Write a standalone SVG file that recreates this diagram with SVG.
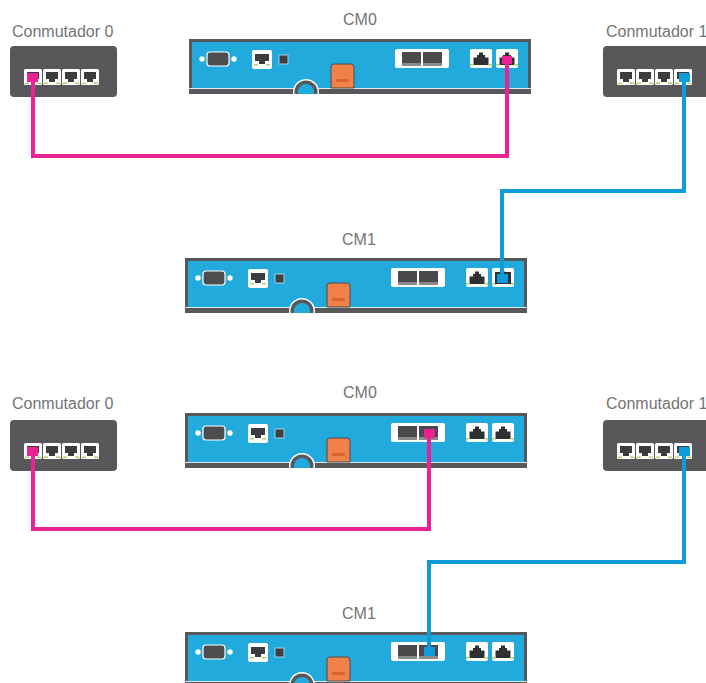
<svg xmlns="http://www.w3.org/2000/svg" width="706" height="683" viewBox="0 0 706 683">
<style>
text{font-family:"Liberation Sans",Arial,sans-serif;font-size:16px;fill:#747476}
.dark{fill:#58585a}
.white{fill:#fff}
.green{fill:#b5cf6a}
.wire{fill:none;stroke-width:4;stroke-linejoin:miter}
.pink{stroke:#ea2294}
.blue{stroke:#0d9bd9}
.pf{fill:#ea2294}
.bf{fill:#0d9bd9}
</style>
<defs>
<g id="rj-down">
<rect width="18" height="16" rx="1.500" class="white"/>
<path d="M3 3H15V10H12V13H6V10H3Z" fill="#3c3c3e"/>
<rect x="1" y="13.500" width="4" height="1.500" class="green"/>
<rect x="13" y="13.500" width="4" height="1.500" class="green"/>
</g>
<g id="rj-up">
<rect width="22" height="19" rx="2" class="white"/>
<path d="M3.500 16V8.500H7V6H9V3.500H13V6H15V8.500H18.500V16Z" fill="#303032"/>
<rect x="0" y="15" width="4" height="1.500" class="green"/>
<rect x="18" y="15" width="4" height="1.500" class="green"/>
</g>
<g id="switch">
<rect width="107" height="51" rx="4" class="dark"/>
<use href="#rj-down" x="14" y="23"/>
<use href="#rj-down" x="33" y="23"/>
<use href="#rj-down" x="52" y="23"/>
<use href="#rj-down" x="71" y="23"/>
</g>
<g id="panel">
<rect width="342" height="55" class="dark"/>
<rect x="3" y="3" width="336" height="46" fill="#22aadd"/>
<rect x="0" y="49" width="342" height="1" fill="#dcebf2"/>
<circle cx="13" cy="20" r="2.700" class="white"/>
<circle cx="45" cy="20" r="2.700" class="white"/>
<rect x="18" y="13" width="22" height="14" rx="3" fill="#4d4d4f" stroke="#fff" stroke-width="1.200"/>
<rect x="63" y="11" width="20" height="19" rx="2" class="white"/>
<path d="M66 15H80V22H76V25H70V22H66Z" fill="#3c3c3e"/>
<rect x="65" y="25" width="4" height="1.500" class="green"/>
<rect x="77" y="25" width="4" height="1.500" class="green"/>
<rect x="90" y="16" width="9" height="9" fill="#3f3f41" stroke="#9fd0e6"/>
<path d="M104 55V53A13 13 0 0 1 130 53V55Z" class="white"/>
<path d="M105.500 55V53A11.500 11.500 0 0 1 128.500 53V55Z" class="dark"/>
<path d="M109 55V53A8 8 0 0 1 125 53V55Z" fill="#22aadd"/>
<path d="M142 28Q142 25 145 25H162Q165 25 165 28V49H142Z" fill="#f08148" stroke="#4a4a4a" stroke-width="1"/>
<rect x="147" y="40" width="13" height="3" rx="1.500" fill="#d7652f"/>
<rect x="206" y="10" width="54" height="19" rx="2" class="white"/>
<rect x="213" y="13" width="19" height="14" fill="#4a4a4c"/>
<rect x="234" y="13" width="19" height="14" fill="#4a4a4c"/>
<rect x="213" y="24" width="19" height="3" fill="#8a8a8c"/>
<rect x="234" y="24" width="19" height="3" fill="#8a8a8c"/>
<use href="#rj-up" x="281" y="10"/>
<use href="#rj-up" x="307" y="10"/>
</g>
</defs>
<g id="switch0-a"><use href="#switch" x="10" y="46"/><rect x="27" y="73" width="11" height="9" class="pf"/><text x="12" y="37">Conmutador 0</text></g>
<g id="switch1-a"><use href="#switch" x="603" y="46"/><rect x="679" y="73" width="11" height="9" class="bf"/><text x="606" y="37">Conmutador 1</text></g>
<g id="cm0-a"><use href="#panel" x="189" y="39"/><rect x="502" y="56" width="10" height="8" class="pf"/><text x="343" y="25">CM0</text></g>
<g id="cm1-a"><use href="#panel" x="185" y="258"/><rect x="495" y="272" width="16" height="12" fill="#303032"/><rect x="497" y="274" width="11" height="9" class="bf"/><text x="342" y="245">CM1</text></g>
<g id="switch0-b"><use href="#switch" x="10" y="420"/><rect x="27" y="447" width="11" height="9" class="pf"/><text x="12" y="409">Conmutador 0</text></g>
<g id="switch1-b"><use href="#switch" x="603" y="420"/><rect x="679" y="447" width="11" height="9" class="bf"/><text x="606" y="409">Conmutador 1</text></g>
<g id="cm0-b"><use href="#panel" x="185" y="413"/><rect x="424" y="429" width="11" height="9" class="pf"/><text x="343" y="398">CM0</text></g>
<g id="cm1-b"><use href="#panel" x="185" y="632"/><rect x="424" y="647" width="11" height="9" class="bf"/><text x="342" y="619">CM1</text></g>
<g id="connectors">
<path class="wire pink" d="M33 78V156H507V60"/>
<path class="wire blue" d="M684 77V191H502V279"/>
<path class="wire pink" d="M33 451V529H429V433"/>
<path class="wire blue" d="M684 451V562H429V652"/>
</g>
</svg>
